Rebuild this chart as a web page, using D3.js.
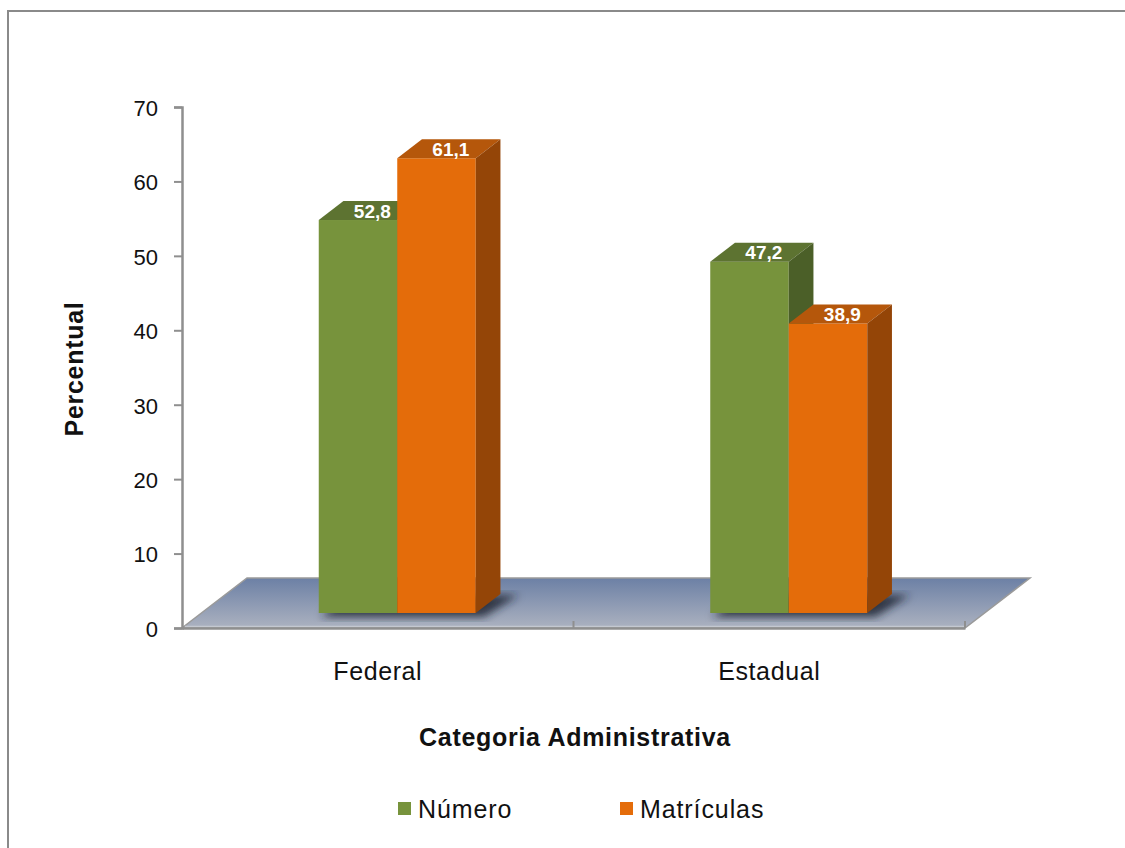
<!DOCTYPE html>
<html><head><meta charset="utf-8">
<script src="https://cdn.jsdelivr.net/npm/d3@7"></script>
<style>
body{margin:0;background:#fff;}
svg{display:block;font-family:"Liberation Sans",Arial,sans-serif;}
</style></head>
<body>
<svg id="chart" width="1125" height="848"></svg>
<script>
const categories = ["Federal", "Estadual"];
const seriesNames = ["Número", "Matrículas"];
const numero = [52.8, 47.2];
const matriculas = [61.1, 38.9];
const yTicks = [0, 10, 20, 30, 40, 50, 60, 70];
const xTitle = "Categoria Administrativa";
const yTitle = "Percentual";

const colors = {
  "Número": {front: "#77933c", top: "#5d7331", side: "#4b5f28"},
  "Matrículas": {front: "#e46c0a", top: "#b5570b", side: "#944507"}
};

const svg = d3.select("#chart");
const axL = 182, axR = 965, axTop = 107, axBot = 628;
const kx = 1.3; // depth projection dx per unit depth
const floorDepth = 50, barD0 = 15, barD1 = 34;
const off = d => [kx * d, -d];

const y = d3.scaleLinear().domain([0, 70]).range([axBot, axTop]);
const x0 = d3.scaleBand().domain(categories).range([axL, axR]);
const groupW = 157;
const x1 = d3.scaleBand().domain(seriesNames)
  .range([x0.bandwidth() / 2 - groupW / 2, x0.bandwidth() / 2 + groupW / 2]);

const fmt = d3.formatLocale({decimal: ",", thousands: ".", grouping: [3], currency: ["", ""]}).format(".1f");

// border
svg.append("rect").attr("x", 8).attr("y", 11).attr("width", 1130).attr("height", 850)
  .attr("fill", "none").attr("stroke", "#8a8a8a").attr("stroke-width", 2);

const defs = svg.append("defs");
const grad = defs.append("linearGradient").attr("id", "floorGrad").attr("x1", 0).attr("y1", 0).attr("x2", 0).attr("y2", 1);
grad.append("stop").attr("offset", "0%").attr("stop-color", "#6c80a5");
grad.append("stop").attr("offset", "100%").attr("stop-color", "#acb2c0");
defs.append("filter").attr("id", "blur").attr("x", "-20%").attr("y", "-20%").attr("width", "140%").attr("height", "140%")
  .append("feGaussianBlur").attr("stdDeviation", 4);

// floor
const fb = off(floorDepth);
const floorPts = [[axL, axBot], [axR, axBot], [axR + fb[0], axBot + fb[1]], [axL + fb[0], axBot + fb[1]]];
svg.append("polygon").attr("points", floorPts.map(p => p.join(",")).join(" "))
  .attr("fill", "url(#floorGrad)").attr("stroke", "#9a9a9a").attr("stroke-width", 1.5);
svg.append("line").attr("x1", axL + 3).attr("x2", axR).attr("y1", axBot - 1.5).attr("y2", axBot - 1.5)
  .attr("stroke", "#c4c8d0").attr("stroke-width", 1.5);

// data rows
const rows = [];
categories.forEach((c, i) => {
  rows.push({cat: c, s: "Número", v: numero[i]});
  rows.push({cat: c, s: "Matrículas", v: matriculas[i]});
});

const o0 = off(barD0), o1 = off(barD1);
function geom(r) {
  const xl = x0(r.cat) + x1(r.s) + o0[0];
  const xr = xl + x1.bandwidth();
  const yb = y(0) + o0[1];
  const yt = y(r.v) + o0[1];
  const ddx = o1[0] - o0[0], ddy = o1[1] - o0[1];
  return {xl, xr, yb, yt, ddx, ddy};
}

// shadows
const shadowG = svg.append("g").attr("filter", "url(#blur)");
categories.forEach(c => {
  const rs = rows.filter(r => r.cat === c).map(geom);
  const xl = d3.min(rs, g => g.xl), xr = d3.max(rs, g => g.xr);
  const g = rs[0];
  const pts = [[xl + 2, g.yb + 4], [xr + 8, g.yb + 4], [xr + g.ddx + 18, g.yb + g.ddy + 1], [xl + g.ddx + 4, g.yb + g.ddy + 1]];
  shadowG.append("polygon").attr("points", pts.map(p => p.join(",")).join(" "))
    .attr("fill", "#1c2333").attr("opacity", 0.85);
});

// bars
const barG = svg.append("g");
rows.forEach(r => {
  const g = geom(r), col = colors[r.s];
  const grp = barG.append("g");
  grp.append("rect").attr("x", g.xl).attr("y", g.yt).attr("width", g.xr - g.xl).attr("height", g.yb - g.yt)
    .attr("fill", col.front);
  grp.append("polygon").attr("points", [[g.xl, g.yt], [g.xr, g.yt], [g.xr + g.ddx, g.yt + g.ddy], [g.xl + g.ddx, g.yt + g.ddy]].map(p => p.join(",")).join(" "))
    .attr("fill", col.top);
  grp.append("polygon").attr("points", [[g.xr, g.yt], [g.xr + g.ddx, g.yt + g.ddy], [g.xr + g.ddx, g.yb + g.ddy], [g.xr, g.yb]].map(p => p.join(",")).join(" "))
    .attr("fill", col.side);
});
rows.forEach(r => {
  const g = geom(r);
  svg.append("text").attr("x", (g.xl + g.xr) / 2 + g.ddx / 2 + 2).attr("y", g.yt + g.ddy / 2 + 7)
    .attr("text-anchor", "middle").attr("fill", "#fff").attr("font-weight", "bold")
    .attr("font-size", 19).text(fmt(r.v));
});

// y axis
const yAxis = d3.axisLeft(y).tickValues(yTicks).tickSize(8).tickPadding(16).tickFormat(d3.format("d"));
const ya = svg.append("g").attr("transform", `translate(${axL},0)`).call(yAxis);
ya.select(".domain").attr("stroke", "#8f8f8f").attr("stroke-width", 2.5);
ya.selectAll(".tick line").attr("stroke", "#8f8f8f").attr("stroke-width", 2);
ya.selectAll(".tick text").attr("font-size", 22).attr("fill", "#111").attr("dy", "0.38em")
  .attr("font-family", "'Liberation Sans',Arial,sans-serif");

// x axis (front edge of floor)
const xAxis = d3.axisBottom(x0).tickSize(0).tickPadding(34);
const xa = svg.append("g").attr("transform", `translate(0,${axBot})`).call(xAxis);
xa.select(".domain").attr("stroke", "#8f8f8f").attr("stroke-width", 2.5);
xa.selectAll(".tick text").attr("font-size", 25).attr("letter-spacing", "0.6px").attr("fill", "#111")
  .attr("font-family", "'Liberation Sans',Arial,sans-serif");
[x0.range()[0] + x0.bandwidth(), axR].forEach(xx => {
  svg.append("line").attr("x1", xx).attr("x2", xx).attr("y1", axBot).attr("y2", axBot - 7)
    .attr("stroke", "#8f8f8f").attr("stroke-width", 2);
});

// titles
svg.append("text").attr("x", 575).attr("y", 746).attr("text-anchor", "middle")
  .attr("font-size", 25).attr("font-weight", "bold").attr("letter-spacing", "0.7px").attr("fill", "#111").text(xTitle);
svg.append("text").attr("transform", "translate(83,369) rotate(-90)").attr("text-anchor", "middle")
  .attr("font-size", 25).attr("font-weight", "bold").attr("letter-spacing", "0.7px").attr("fill", "#111").text(yTitle);

// legend
const legX = [398, 620];
seriesNames.forEach((s, i) => {
  svg.append("rect").attr("x", legX[i]).attr("y", 802).attr("width", 13).attr("height", 13).attr("fill", colors[s].front);
  svg.append("text").attr("x", legX[i] + 20).attr("y", 818).attr("font-size", 25).attr("letter-spacing", "0.9px")
    .attr("fill", "#111").text(s);
});
</script>
</body></html>
